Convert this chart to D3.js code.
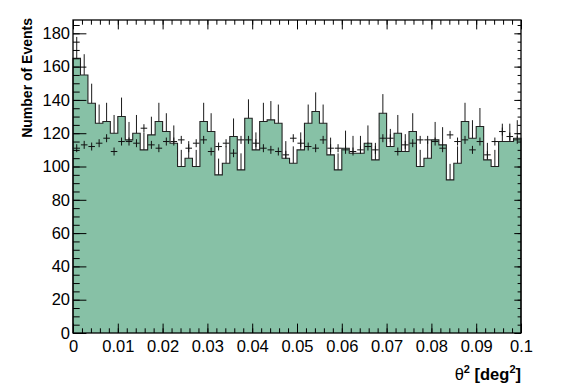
<!DOCTYPE html>
<html>
<head>
<meta charset="utf-8">
<script src="https://cdn.jsdelivr.net/npm/d3@7"></script>
<style>
  html, body { margin: 0; padding: 0; background: #fff; }
  svg { display: block; font-family: "Liberation Sans", Arial, sans-serif; }
</style>
</head>
<body>
<div id="chart"></div>
<script>
// theta^2 histogram: ON counts (green) and scaled OFF counts (crosses)
const nBins = 60
const xMin = 0, xMax = 0.1
const onCounts = [
  165, 155, 138, 126, 127, 120, 130, 116, 120, 110,
  119, 127, 121, 114, 100, 105, 100, 127, 121, 95,
  102, 118, 98, 129, 110, 127, 128, 126, 105, 102,
  110, 126, 133, 126, 107, 98, 111, 108, 108, 114,
  104, 132, 112, 120, 109, 121, 100, 105, 116, 113,
  92, 102, 127, 117, 124, 104, 100, 115, 115, 117
]
const offCounts = [
  111, 113, 112, 114, 117, 109, 115, 115, 114, 123,
  113, 111, 115, 115, 116, 111, 114, 116, 109, 112,
  114, 108, 116, 116, 114, 111, 110, 109, 107, 117,
  114, 112, 111, 116, 111, 111, 110, 109, 110, 112,
  110, 117, 117, 109, 113, 114, 116, 116, 115, 111,
  119, 115, 116, 110, 115, 107, 115, 121, 118, 116
]
const offErr = 2.4
const xTicks = [0, 0.01, 0.02, 0.03, 0.04, 0.05, 0.06, 0.07, 0.08, 0.09, 0.1]
const xTickLabels = ['0', '0.01', '0.02', '0.03', '0.04', '0.05', '0.06', '0.07', '0.08', '0.09', '0.1']
const yTicks = [0, 20, 40, 60, 80, 100, 120, 140, 160, 180]
const yMax = 188

const W = 567, H = 392
const M = { top: 20, right: 46, bottom: 59, left: 73 }
const innerW = W - M.left - M.right
const innerH = H - M.top - M.bottom

const svg = d3.select('#chart').append('svg')
  .attr('width', W).attr('height', H)

const g = svg.append('g').attr('transform', `translate(${M.left},${M.top})`)

const x = d3.scaleLinear().domain([xMin, xMax]).range([0, innerW])
const y = d3.scaleLinear().domain([0, yMax]).range([innerH, 0])
const bw = (xMax - xMin) / nBins
const edge = i => xMin + i * bw

// step outline of the ON histogram
const pts = [[edge(0), 0]]
onCounts.forEach((v, i) => { pts.push([edge(i), v]); pts.push([edge(i + 1), v]) })
pts.push([edge(nBins), 0])

const line = d3.line().x(d => x(d[0])).y(d => y(d[1]))

g.append('path').attr('d', line(pts) + 'Z')
  .attr('fill', '#87c1a6').attr('stroke', 'none')
g.append('path').attr('d', line(pts))
  .attr('fill', 'none').attr('stroke', '#222').attr('stroke-width', 1.1)

// ON error bars (upper half visible above fill)
g.append('g').selectAll('line').data(onCounts).join('line')
  .attr('x1', (v, i) => x(edge(i) + bw / 2)).attr('x2', (v, i) => x(edge(i) + bw / 2))
  .attr('y1', v => y(v)).attr('y2', v => y(v + Math.sqrt(v)))
  .attr('stroke', '#1a1a1a').attr('stroke-width', 1)

// OFF crosses
const cross = g.append('g').attr('stroke', '#111').attr('stroke-width', 1)
cross.selectAll('line.h').data(offCounts).join('line').attr('class', 'h')
  .attr('x1', (v, i) => x(edge(i) + bw * 0.06)).attr('x2', (v, i) => x(edge(i) + bw * 0.94))
  .attr('y1', v => y(v)).attr('y2', v => y(v))
cross.selectAll('line.v').data(offCounts).join('line').attr('class', 'v')
  .attr('x1', (v, i) => x(edge(i) + bw / 2)).attr('x2', (v, i) => x(edge(i) + bw / 2))
  .attr('y1', v => y(v - offErr)).attr('y2', v => y(v + offErr))

// axes: ticks inside the frame, ROOT style
const xMinor = d3.range(0, 51).map(k => k * 0.002)
const yMinor = d3.range(0, 38).map(k => k * 5)
const styleAxis = sel => {
  sel.select('.domain').remove()
  sel.selectAll('line').attr('stroke', '#000').attr('stroke-width', 1)
  sel.selectAll('text').attr('fill', '#000').style('font-size', '16.5px')
}

g.append('g').attr('transform', `translate(0,${innerH})`)
  .call(d3.axisBottom(x).tickValues(xMinor).tickFormat('').tickSize(-4.7))
  .call(styleAxis)
g.append('g').attr('transform', `translate(0,${innerH})`)
  .call(d3.axisBottom(x).tickValues(xTicks).tickFormat((d, i) => xTickLabels[i]).tickSize(-9.4).tickPadding(7))
  .call(styleAxis)
g.append('g')
  .call(d3.axisTop(x).tickValues(xMinor).tickFormat('').tickSize(-4.7)).call(styleAxis)
g.append('g')
  .call(d3.axisTop(x).tickValues(xTicks).tickFormat('').tickSize(-9.4)).call(styleAxis)

g.append('g')
  .call(d3.axisLeft(y).tickValues(yMinor).tickFormat('').tickSize(-6.7)).call(styleAxis)
g.append('g')
  .call(d3.axisLeft(y).tickValues(yTicks).tickFormat(d3.format('d')).tickSize(-13.4).tickPadding(3))
  .call(styleAxis)
g.append('g').attr('transform', `translate(${innerW},0)`)
  .call(d3.axisRight(y).tickValues(yMinor).tickFormat('').tickSize(-3.4)).call(styleAxis)
g.append('g').attr('transform', `translate(${innerW},0)`)
  .call(d3.axisRight(y).tickValues(yTicks).tickFormat('').tickSize(-6.7)).call(styleAxis)

// frame
g.append('rect').attr('width', innerW).attr('height', innerH)
  .attr('fill', 'none').attr('stroke', '#000').attr('stroke-width', 1.3)

// titles
const xt = svg.append('text')
  .attr('x', M.left + innerW).attr('y', 380)
  .attr('text-anchor', 'end').attr('font-size', 16.5).attr('font-weight', 'bold')
xt.append('tspan').attr('font-weight', 'normal').text('θ')
xt.append('tspan').attr('font-size', 11).attr('dy', -7).text('2')
xt.append('tspan').attr('dy', 7).text(' [deg')
xt.append('tspan').attr('font-size', 11).attr('dy', -7).text('2')
xt.append('tspan').attr('dy', 7).text(']')

svg.append('text')
  .attr('transform', `translate(32,${M.top - 2}) rotate(-90)`)
  .attr('text-anchor', 'end').attr('font-size', 14).attr('font-weight', 'bold')
  .text('Number of Events')
</script>
</body>
</html>
